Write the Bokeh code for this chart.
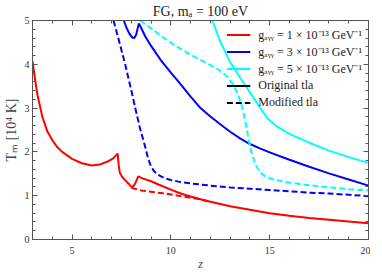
from bokeh.plotting import figure
from bokeh.models import LinearAxis, Legend, LegendItem, Range1d, SingleIntervalTicker
from bokeh.embed import file_html
from bokeh.resources import INLINE

# ---------------- data ----------------
red_orig_z = [3.0, 3.1, 3.25, 3.5, 3.75, 4.0, 4.25, 4.5, 5.0, 5.5, 6.0, 6.4, 6.8, 7.1, 7.31,
              7.36, 7.42, 7.55, 7.7, 7.85, 8.0, 8.1, 8.2, 8.3, 8.35, 8.6, 9.0, 9.4, 10.0,
              10.5, 11.0, 11.5, 12.0, 12.5, 13.0, 14.0, 15.0, 16.0, 17.0, 18.0, 19.0, 20.0]
red_orig_t = [4.07, 3.75, 3.30, 2.80, 2.47, 2.27, 2.11, 2.00, 1.84, 1.74, 1.69, 1.71, 1.78, 1.86, 1.96,
              1.70, 1.52, 1.42, 1.35, 1.28, 1.20, 1.22, 1.28, 1.39, 1.44, 1.39, 1.33, 1.25, 1.14,
              1.05, 0.98, 0.92, 0.86, 0.81, 0.76, 0.68, 0.60, 0.54, 0.49, 0.45, 0.41, 0.37]

red_mod_z = [8.0, 8.5, 9.0, 9.5, 10.0, 10.5, 11.0, 11.5, 12.0]
red_mod_t = [1.18, 1.12, 1.09, 1.06, 1.03, 0.99, 0.95, 0.92, 0.86]

blue_orig_z = [7.62, 7.75, 7.9, 8.05, 8.15, 8.25, 8.32, 8.38, 8.5, 8.7, 9.0, 9.5, 10.0, 10.5,
               11.0, 11.5, 12.0, 12.5, 13.0, 13.5, 14.0, 14.5, 15.0, 16.0, 17.0, 18.0, 19.0, 20.0]
blue_orig_t = [5.0, 4.84, 4.70, 4.61, 4.60, 4.68, 4.82, 4.93, 4.83, 4.64, 4.42, 4.09, 3.81, 3.54,
               3.26, 3.00, 2.81, 2.63, 2.46, 2.31, 2.18, 2.08, 1.99, 1.82, 1.66, 1.51, 1.37, 1.23]

blue_mod_z = [7.1, 7.4, 7.7, 8.0, 8.2, 8.45, 8.7, 8.85, 9.0, 9.15, 9.3, 9.5, 9.75, 10.0, 10.5,
              11.0, 12.0, 13.0, 14.0, 15.0, 16.0, 17.0, 18.0, 19.0, 20.0]
blue_mod_t = [5.0, 4.5, 3.98, 3.40, 3.00, 2.52, 2.12, 1.85, 1.66, 1.56, 1.50, 1.44, 1.39, 1.36, 1.31,
              1.28, 1.23, 1.19, 1.16, 1.13, 1.10, 1.07, 1.05, 1.02, 0.99]

cyan_orig_z = [12.1, 12.5, 13.0, 13.5, 14.0, 14.5, 14.9, 15.3, 16.0, 17.0, 18.0, 19.0, 20.0]
cyan_orig_t = [5.0, 4.52, 4.05, 3.70, 3.36, 3.02, 2.76, 2.60, 2.41, 2.21, 2.03, 1.88, 1.75]

cyan_mod_z = [8.45, 9.0, 9.5, 10.0, 10.5, 11.0, 11.5, 12.0, 12.5, 12.9, 13.2, 13.45, 13.65, 13.8,
              13.95, 14.1, 14.3, 14.5, 14.8, 15.2, 15.5, 16.0, 17.0, 18.0, 19.0, 20.0]
cyan_mod_t = [5.0, 4.82, 4.65, 4.49, 4.35, 4.22, 4.10, 3.98, 3.85, 3.70, 3.50, 3.25, 2.95, 2.62,
              2.25, 1.95, 1.70, 1.54, 1.43, 1.37, 1.34, 1.30, 1.24, 1.19, 1.15, 1.12]

labels = ["gₐᵧᵧ = 1 × 10⁻¹³ GeV⁻¹", "gₐᵧᵧ = 3 × 10⁻¹³ GeV⁻¹", "gₐᵧᵧ = 5 × 10⁻¹³ GeV⁻¹",
          "Original tla", "Modified tla"]
title_text = "FG, mₐ = 100 eV"
x_label = "z"
y_label = "Tₘ [10⁴ K]"

# ---------------- figure ----------------
SERIF = "Liberation Serif"
AX = "#555555"

p = figure(frame_width=336, frame_height=219, output_backend="svg", toolbar_location=None,
           x_range=Range1d(3, 20), y_range=Range1d(0, 5),
           min_border_left=31, min_border_right=2, min_border_top=19, min_border_bottom=26)
p.title.text = title_text
p.title.align = "center"
p.title.text_font = SERIF
p.title.text_font_size = "14px"
p.title.text_font_style = "normal"
p.title.text_color = "#222222"
p.title.standoff = 3
p.xgrid.visible = False
p.ygrid.visible = False
p.outline_line_color = AX
p.background_fill_color = "white"
p.border_fill_color = "white"


def style(ax, show):
    ax.major_tick_in = 5
    ax.major_tick_out = 0
    ax.minor_tick_in = 3
    ax.minor_tick_out = 0
    ax.axis_line_color = AX
    ax.major_tick_line_color = AX
    ax.minor_tick_line_color = AX
    ax.major_label_text_font = SERIF
    if show:
        ax.major_label_text_color = "#333333"
        ax.major_label_text_font_size = "10px"
        ax.major_label_standoff = 3
    else:
        ax.major_label_text_color = None
        ax.major_label_text_font_size = "1px"
        ax.major_label_standoff = 0


p.xaxis.ticker = SingleIntervalTicker(interval=5, num_minor_ticks=5)
p.yaxis.ticker = SingleIntervalTicker(interval=1, num_minor_ticks=5)
style(p.xaxis[0], True)
style(p.yaxis[0], True)
p.xaxis.major_label_standoff = 7
p.xaxis.axis_label = x_label
p.xaxis.axis_label_text_font = SERIF
p.xaxis.axis_label_text_font_style = "italic"
p.xaxis.axis_label_text_font_size = "12px"
p.xaxis.axis_label_standoff = 0
p.yaxis.axis_label = y_label
p.yaxis.axis_label_text_font = SERIF
p.yaxis.axis_label_text_font_style = "normal"
p.yaxis.axis_label_text_font_size = "14px"
p.yaxis.axis_label_standoff = 3

top = LinearAxis(ticker=SingleIntervalTicker(interval=5, num_minor_ticks=5))
style(top, False)
p.add_layout(top, "above")
right = LinearAxis(ticker=SingleIntervalTicker(interval=1, num_minor_ticks=5))
style(right, False)
p.add_layout(right, "right")

LW = 2
DASH = "6 3"
NAN = float("nan")
r1 = p.line(red_orig_z, red_orig_t, color="#ff0000", line_width=LW)
p.line(red_mod_z, red_mod_t, color="#ff0000", line_width=LW, line_dash=DASH)
r2 = p.line(blue_orig_z, blue_orig_t, color="#0000ff", line_width=LW)
p.line(blue_mod_z, blue_mod_t, color="#0000ff", line_width=LW, line_dash=DASH)
r3 = p.line(cyan_orig_z, cyan_orig_t, color="#00ffff", line_width=LW)
p.line(cyan_mod_z, cyan_mod_t, color="#00ffff", line_width=LW, line_dash=DASH)
r4 = p.line([NAN], [NAN], color="black", line_width=LW)
r5 = p.line([NAN], [NAN], color="black", line_width=LW, line_dash=DASH)

legend = Legend(items=[LegendItem(label=labels[0], renderers=[r1]),
                       LegendItem(label=labels[1], renderers=[r2]),
                       LegendItem(label=labels[2], renderers=[r3]),
                       LegendItem(label=labels[3], renderers=[r4]),
                       LegendItem(label=labels[4], renderers=[r5])],
                location="top_right")
legend.background_fill_alpha = 0
legend.border_line_alpha = 0
legend.label_text_font = SERIF
legend.label_text_font_size = "12px"
legend.label_text_color = "#222222"
legend.glyph_width = 24
legend.glyph_height = 17
legend.label_height = 17
legend.label_standoff = 8
legend.spacing = 0
legend.padding = 2
legend.margin = 4
p.add_layout(legend)

open("out.html", "w").write(file_html(p, INLINE))
